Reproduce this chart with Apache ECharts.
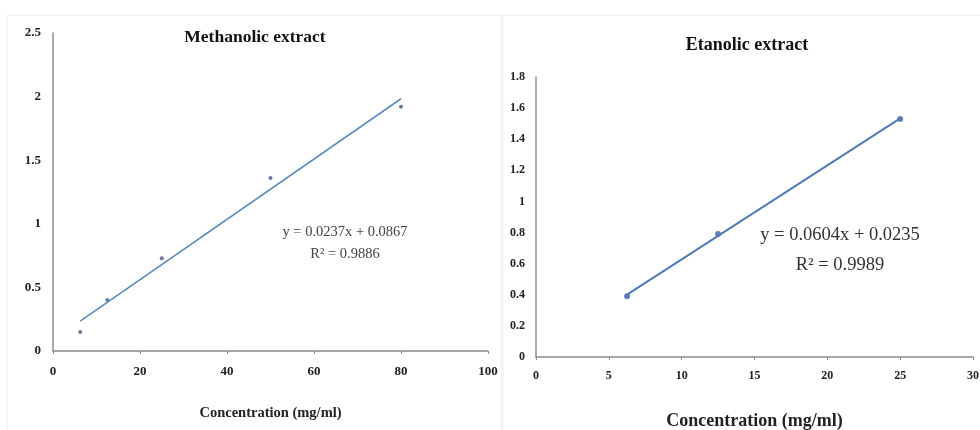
<!DOCTYPE html>
<html>
<head>
<meta charset="utf-8">
<script src="https://cdn.jsdelivr.net/npm/echarts@6/dist/echarts.min.js"></script>
<style>
  html, body { margin: 0; padding: 0; background: #fff; }
  #chart { width: 980px; height: 430px; }
</style>
</head>
<body>
<div id="chart"></div>
<script>
// Methanolic extract
var methX = [6.25, 12.5, 25, 50, 80];
var methY = [0.15, 0.40, 0.73, 1.36, 1.92];
var methTrend = [[6.25, 0.235], [80, 1.983]];
var methXTicks = [0, 100, 20];
var methYTicks = [0, 2.5, 0.5];

// Etanolic extract
var etX = [6.25, 12.5, 25];
var etY = [0.39, 0.79, 1.53];
var etTrend = [[6.25, 0.401], [25, 1.534]];
var etXTicks = [0, 30, 5];
var etYTicks = [0, 1.8, 0.2];

var serif = 'Liberation Serif';
var axisGrey = '#8c8c8c';

function pairs(xs, ys) {
	var out = [];
	for (var i = 0; i < xs.length; i++) out.push([xs[i], ys[i]]);
	return out;
}

function valueAxis(ticks, idx, fontSize) {
	return {
		type: 'value',
		gridIndex: idx,
		min: ticks[0],
		max: ticks[1],
		interval: ticks[2],
		splitLine: { show: false },
		axisLine: { show: true, lineStyle: { color: axisGrey, width: 1.5 } },
		axisLabel: { fontFamily: serif, fontWeight: 'bold', fontSize: fontSize, color: '#222' }
	};
}

var chart = echarts.init(document.getElementById('chart'));

var xa0 = valueAxis(methXTicks, 0, 13);
xa0.axisTick = { show: true, length: 3, inside: false, lineStyle: { color: axisGrey } };
xa0.axisLabel.margin = 14;
xa0.name = 'Concentration (mg/ml)';
xa0.nameLocation = 'middle';
xa0.nameGap = 55;
xa0.nameTextStyle = { fontFamily: serif, fontWeight: 'bold', fontSize: 14.5, color: '#222' };

var xa1 = valueAxis(etXTicks, 1, 12);
xa1.axisTick = { show: true, length: 3, lineStyle: { color: axisGrey } };
xa1.axisLabel.margin = 13;
xa1.name = 'Concentration (mg/ml)';
xa1.nameLocation = 'middle';
xa1.nameGap = 55;
xa1.nameTextStyle = { fontFamily: serif, fontWeight: 'bold', fontSize: 18, color: '#222' };

var ya0 = valueAxis(methYTicks, 0, 13);
ya0.axisTick = { show: false };
ya0.axisLabel.margin = 12;

var ya1 = valueAxis(etYTicks, 1, 12);
ya1.axisTick = { show: false };
ya1.axisLabel.margin = 11;

var option = {
	backgroundColor: '#fff',
	animation: false,
	title: [{
		text: 'Methanolic extract',
		left: 250, top: 23, textAlign: 'center',
		textStyle: { fontFamily: serif, fontWeight: 'bold', fontSize: 17.5, color: '#111' }
	}, {
		text: 'Etanolic extract',
		left: 742, top: 31, textAlign: 'center',
		textStyle: { fontFamily: serif, fontWeight: 'bold', fontSize: 18, color: '#111' }
	}],
	grid: [
		{ left: 53, right: 492, top: 33, bottom: 79, outerBoundsMode: 'none' },
		{ left: 536, right: 7, top: 77, bottom: 73, outerBoundsMode: 'none' }
	],
	xAxis: [xa0, xa1],
	yAxis: [ya0, ya1],
	graphic: [
		{ type: 'rect', shape: { x: 7, y: 15, width: 494, height: 420 },
		  style: { fill: 'none', stroke: '#ececec', lineWidth: 1 }, z: -1 },
		{ type: 'rect', shape: { x: 503, y: 15, width: 480, height: 420 },
		  style: { fill: 'none', stroke: '#ececec', lineWidth: 1 }, z: -1 },
		{ type: 'text', x: 345, y: 232, style: { text: 'y = 0.0237x + 0.0867', fontFamily: serif,
		  fontSize: 14.5, fill: '#444', textAlign: 'center', textVerticalAlign: 'middle' } },
		{ type: 'text', x: 345, y: 254, style: { text: 'R² = 0.9886', fontFamily: serif,
		  fontSize: 14.5, fill: '#444', textAlign: 'center', textVerticalAlign: 'middle' } },
		{ type: 'text', x: 840, y: 235, style: { text: 'y = 0.0604x + 0.0235', fontFamily: serif,
		  fontSize: 18.5, fill: '#333', textAlign: 'center', textVerticalAlign: 'middle' } },
		{ type: 'text', x: 840, y: 265, style: { text: 'R² = 0.9989', fontFamily: serif,
		  fontSize: 18.5, fill: '#333', textAlign: 'center', textVerticalAlign: 'middle' } }
	],
	series: [{
		type: 'line',
		xAxisIndex: 0, yAxisIndex: 0,
		data: methTrend,
		showSymbol: false,
		lineStyle: { color: '#5a8ac0', width: 1.6 }
	}, {
		type: 'scatter',
		xAxisIndex: 0, yAxisIndex: 0,
		data: pairs(methX, methY),
		symbolSize: 4,
		itemStyle: { color: '#3d5a85' }
	}, {
		type: 'line',
		xAxisIndex: 1, yAxisIndex: 1,
		data: etTrend,
		showSymbol: false,
		lineStyle: { color: '#4f7cb8', width: 2 }
	}, {
		type: 'scatter',
		xAxisIndex: 1, yAxisIndex: 1,
		data: pairs(etX, etY),
		symbolSize: 6,
		itemStyle: { color: '#3c5ea8' }
	}]
};

chart.setOption(option);
</script>
</body>
</html>
